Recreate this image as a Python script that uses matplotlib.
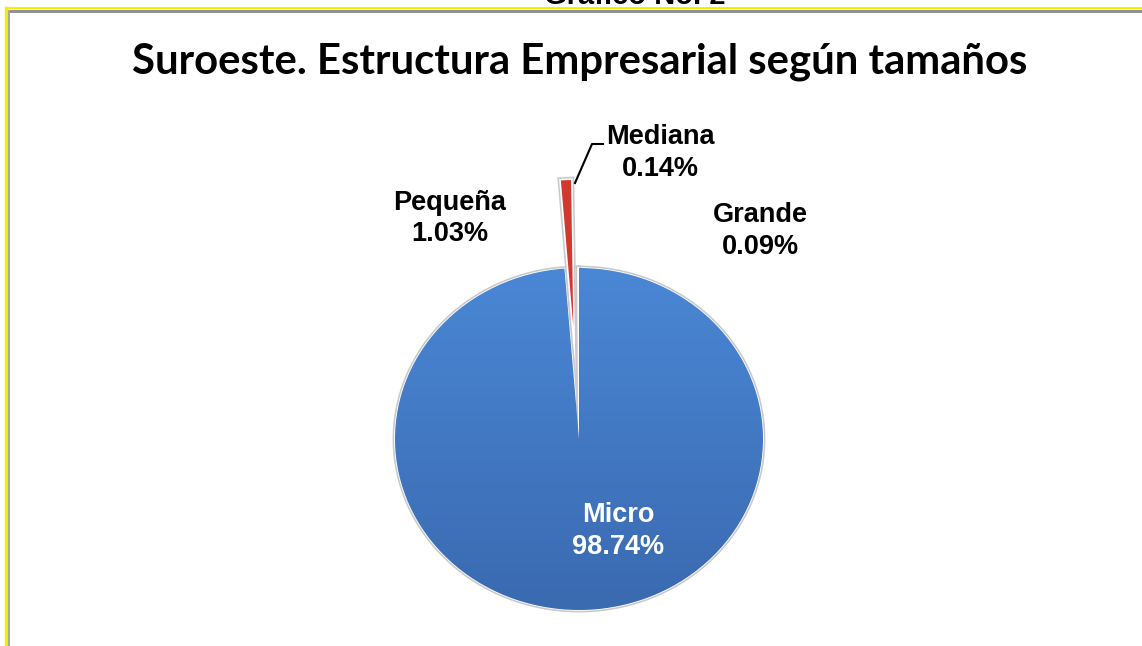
import matplotlib
matplotlib.use('Agg')
import numpy as np
import matplotlib.pyplot as plt
import matplotlib.patheffects as pe
from matplotlib.lines import Line2D
from matplotlib.colors import LinearSegmentedColormap

# data
categorias = ['Micro', 'Pequeña', 'Mediana', 'Grande']
porcentajes = [98.74, 1.03, 0.14, 0.09]
colores = ['#4179c6', '#d2392e', '#8fb04a', '#7b5fa0']
separacion = [0, 0.52, 0, 0]

W, H = 1142, 646
fig = plt.figure(figsize=(W / 100, H / 100), dpi=100)
fig.patch.set_facecolor('white')


def fx(x):
    return x / W


def fy(y):
    return 1 - y / H


# frame lines (yellow outer, gray inner)
fig.add_artist(Line2D([fx(6), fx(6)], [fy(8), 0], color='#f5f000', lw=2.5))
fig.add_artist(Line2D([fx(6), 1], [fy(8), fy(8)], color='#f5f000', lw=1.5))
fig.add_artist(Line2D([fx(9), 1], [fy(10.5), fy(10.5)], color='#8c8c8c', lw=2))
fig.add_artist(Line2D([fx(8.5), fx(8.5)], [fy(10.5), 0], color='#a8a8a8', lw=1.5))

# heading cut off at the very top (as in the original)
fig.text(fx(635), fy(4.5), 'Gráfico No. 2', ha='center', va='baseline',
         fontsize=21, fontweight='bold', family='Liberation Sans')

fig.text(fx(580), fy(62), 'Suroeste. Estructura Empresarial según tamaños',
         ha='center', va='center', fontsize=30.2, fontweight='bold', family='Lato')

# pie
ax = fig.add_axes([fx(395), fy(610), fx(368), 342 / H])
wedges, _ = ax.pie(porcentajes, startangle=90, counterclock=False,
                   explode=separacion, colors=colores,
                   wedgeprops=dict(edgecolor='white', linewidth=1.2))
for w in wedges:
    w.set_clip_on(False)
    w.set_path_effects([pe.Stroke(linewidth=3.5, foreground='#c9c9c9'), pe.Normal()])

# soft vertical shading on the big slice
azul = LinearSegmentedColormap.from_list('azul', ['#3a6ab0', '#4a87d5'])
grad = np.linspace(0, 1, 256).reshape(-1, 1)
im = ax.imshow(grad, extent=(-1, 1, -1, 1), origin='lower', cmap=azul,
               aspect='auto', zorder=wedges[0].get_zorder() + 0.1)
im.set_clip_path(wedges[0])

ax.set_aspect('auto')
ax.set_xlim(-1, 1)
ax.set_ylim(-1, 1)
ax.axis('off')

# labels
etiquetas = [f'{c}\n{p:.2f}%' for c, p in zip(categorias, porcentajes)]
lab_pos = [(618, 531), (450, 219), (660, 153), (760, 231)]
lab_col = ['white', 'black', 'black', 'black']
for txt, (x, y), c in zip(etiquetas, lab_pos, lab_col):
    fig.text(fx(x), fy(y), txt, ha='center', va='center', color=c,
             fontsize=19.5, fontweight='bold', family='Liberation Sans',
             linespacing=1.25, zorder=5)

# leader line for Mediana
fig.add_artist(Line2D([fx(575), fx(592), fx(603)], [fy(183), fy(144), fy(144)],
                      color='black', lw=1.5))

fig.savefig('out.png', dpi=100)
